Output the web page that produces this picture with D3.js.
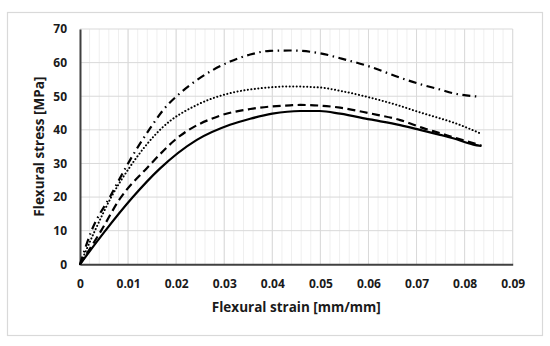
<!DOCTYPE html>
<html>
<head>
<meta charset="utf-8">
<script src="https://cdn.jsdelivr.net/npm/d3@7"></script>
<style>
  body { margin: 0; background: #fff; }
  svg text { font-family: "Open Sans", sans-serif; font-weight: bold; fill: #1a1a1a; }
</style>
</head>
<body>
<div id="chart"></div>
<script>
// Flexural stress-strain curves
const xTicks = [0, 0.01, 0.02, 0.03, 0.04, 0.05, 0.06, 0.07, 0.08, 0.09];
const yTicks = [0, 10, 20, 30, 40, 50, 60, 70];

const solidStrain = [0, 0.005, 0.011, 0.0165, 0.0243, 0.0312, 0.0354, 0.040, 0.0458, 0.0499, 0.0541, 0.0603, 0.0666, 0.0707, 0.0749, 0.0776, 0.0818, 0.0835];
const solidStress = [0, 9.5, 20, 28.3, 37, 41.5, 43.3, 44.8, 45.6, 45.6, 44.8, 43.1, 41.4, 40, 38.5, 37.5, 35.6, 35.2];

const dashStrain = [0, 0.0044, 0.0083, 0.0139, 0.0208, 0.0291, 0.0354, 0.0437, 0.0458, 0.0541, 0.0603, 0.0666, 0.0714, 0.0749, 0.0776, 0.0835];
const dashStress = [0, 10, 19.5, 28.6, 38.2, 44.2, 46.2, 47.3, 47.4, 46.6, 44.9, 42.9, 40.5, 39, 37.8, 35.3];

const dotStrain = [0, 0.0031, 0.0065, 0.0104, 0.0173, 0.0243, 0.0312, 0.037, 0.0437, 0.0499, 0.0541, 0.0603, 0.0666, 0.0707, 0.0749, 0.0776, 0.0835];
const dotStress = [0, 10, 20, 29, 40.9, 47.4, 50.9, 52.3, 52.9, 52.6, 51.6, 49.6, 47.1, 45.2, 43.4, 42.2, 38.8];

const dashDotStrain = [0, 0.0024, 0.0062, 0.0104, 0.0146, 0.0173, 0.0208, 0.0243, 0.0312, 0.0354, 0.0395, 0.0437, 0.0499, 0.0541, 0.0603, 0.0666, 0.0707, 0.0749, 0.0776, 0.0828];
const dashDotStress = [0, 10, 20, 31, 40.5, 45.9, 50.9, 54.8, 60.3, 62.4, 63.5, 63.6, 62.8, 61.3, 58.8, 55.5, 53.6, 52, 50.9, 49.9];

const width = 550, height = 346;
const margin = { left: 80, right: 37.3, top: 29, bottom: 81.7 };

const svg = d3.select('#chart').append('svg')
    .attr('width', width).attr('height', height);

// outer frame
svg.append('rect')
    .attr('x', 7.5).attr('y', 12.5)
    .attr('width', 535).attr('height', 323)
    .attr('fill', '#fff').attr('stroke', '#d9d9d9').attr('stroke-width', 1.2);

const x = d3.scaleLinear().domain([0, 0.09]).range([margin.left, width - margin.right]);
const y = d3.scaleLinear().domain([0, 70]).range([height - margin.bottom, margin.top]);

// minor vertical grid every 0.002
const minor = d3.range(0, 0.0901, 0.002);
svg.append('g').selectAll('line').data(minor).join('line')
    .attr('x1', d => x(d)).attr('x2', d => x(d))
    .attr('y1', y(70)).attr('y2', y(0))
    .attr('stroke', '#efefef').attr('stroke-width', 1);

// major grid
svg.append('g').selectAll('line').data(xTicks.slice(1)).join('line')
    .attr('x1', d => x(d)).attr('x2', d => x(d))
    .attr('y1', y(70)).attr('y2', y(0))
    .attr('stroke', '#d9d9d9').attr('stroke-width', 1);
svg.append('g').selectAll('line').data(yTicks.slice(1)).join('line')
    .attr('x1', x(0)).attr('x2', x(0.09))
    .attr('y1', d => y(d)).attr('y2', d => y(d))
    .attr('stroke', '#d9d9d9').attr('stroke-width', 1);

// axes
const xAxis = svg.append('g')
    .attr('transform', `translate(0,${y(0)})`)
    .call(d3.axisBottom(x).tickValues(xTicks).tickSize(0).tickPadding(15)
        .tickFormat(d => d === 0 ? '0' : d3.format('.2f')(d)));
const yAxis = svg.append('g')
    .attr('transform', `translate(${x(0)},0)`)
    .call(d3.axisLeft(y).tickValues(yTicks).tickSize(0).tickPadding(13));
[xAxis, yAxis].forEach(g => {
    g.select('.domain').attr('stroke', '#404040').attr('stroke-width', 2);
    g.selectAll('text').attr('font-size', 12).attr('fill', '#1a1a1a')
        .attr('font-family', '"Open Sans", sans-serif').attr('font-weight', 'bold');
});

// curves
const series = [
    { strain: solidStrain, stress: solidStress, dash: null, width: 2.2, cap: 'butt' },
    { strain: dashStrain, stress: dashStress, dash: '8 4.5', width: 2.2, cap: 'butt' },
    { strain: dotStrain, stress: dotStress, dash: '0.1 3.4', width: 2, cap: 'round' },
    { strain: dashDotStrain, stress: dashDotStress, dash: '8 4.5 1.5 4.5', width: 2.2, cap: 'butt' }
];
const line = d3.line().x(d => x(d[0])).y(d => y(d[1])).curve(d3.curveMonotoneX);
series.forEach(s => {
    const pts = s.strain.map((v, i) => [v, s.stress[i]]);
    svg.append('path')
        .attr('d', line(pts))
        .attr('fill', 'none')
        .attr('stroke', '#000')
        .attr('stroke-width', s.width)
        .attr('stroke-linecap', s.cap)
        .attr('stroke-dasharray', s.dash);
});

// axis titles
svg.append('text')
    .attr('x', x(0.045)).attr('y', 312)
    .attr('text-anchor', 'middle').attr('font-size', 13.5)
    .text('Flexural strain [mm/mm]');
svg.append('text')
    .attr('transform', `translate(44,${(y(0) + y(70)) / 2}) rotate(-90)`)
    .attr('text-anchor', 'middle').attr('font-size', 13.5)
    .text('Flexural stress [MPa]');
</script>
</body>
</html>
